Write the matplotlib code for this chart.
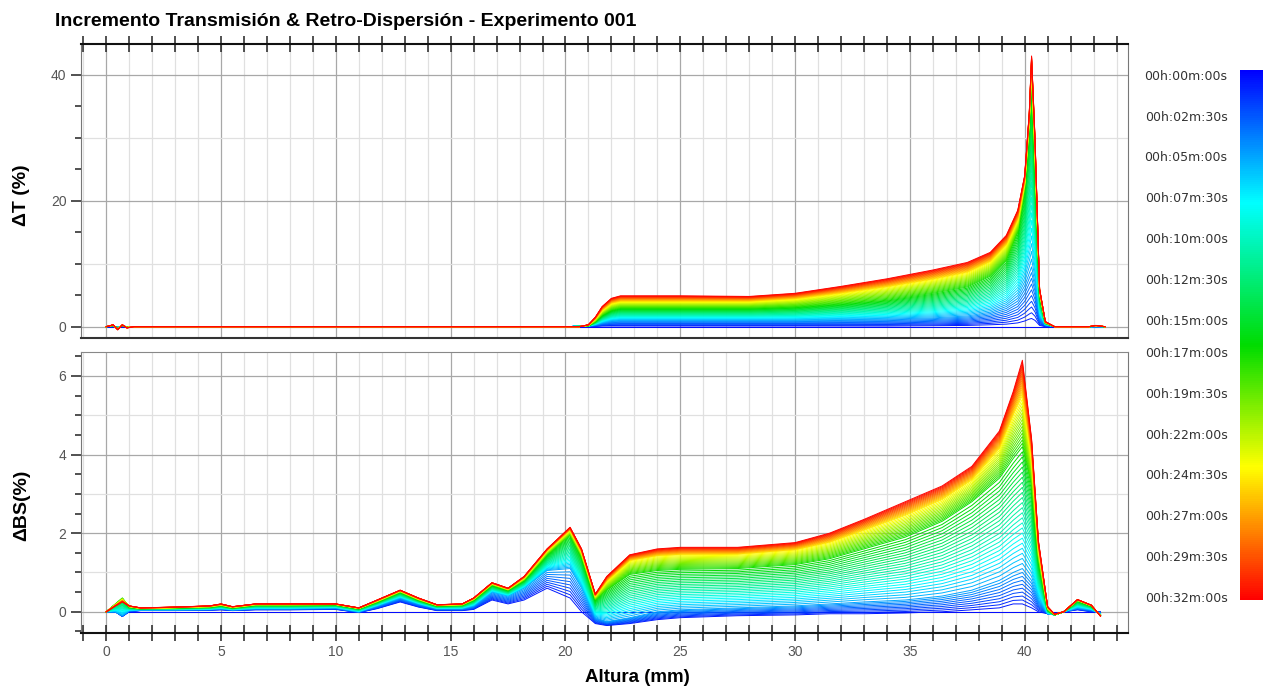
import numpy as np
import matplotlib
matplotlib.use("Agg")
import matplotlib.pyplot as plt
from matplotlib.colors import LinearSegmentedColormap, Normalize
from matplotlib.cm import ScalarMappable
from matplotlib.ticker import MultipleLocator, FixedLocator

plt.rcParams['font.family'] = ['Liberation Sans', 'DejaVu Sans']

# barridos cada 30 s durante 32 min
tiempos = np.arange(0, 32.5, 0.5)
# instantes de los perfiles de referencia (min)
t_ref = [0, 0.5, 5, 17, 24.5, 32]

# ---- Transmision ----
altura_T = [0.0, 0.3, 0.5, 0.7, 0.9, 1.2, 20.2, 20.6, 21.0, 21.3, 21.6, 22.0, 22.4,
            25.0, 28.0, 30.0, 32.0, 34.0, 36.0, 37.5, 38.5, 39.2, 39.7, 40.0, 40.2,
            40.3, 40.45, 40.65, 40.9, 41.3, 42.8, 43.1, 43.5]
dT_cero = [0.0] * len(altura_T)
dT_primero = [0, 0, 0, 0, 0, 0, 0, 0.1, 0, 0.05, 0.1, 0.1, 0.1, 0.1, 0.1, 0.1, 0.1,
              0.1, 0.15, 0.2, 0.3, 0.4, 0.6, 0.9, 1.2, 1.3, 1.0, 0.2, 0, 0, 0, 0, 0]
dT_inicial = [0, 0.1, -0.1, 0.1, 0, 0, 0, 0.15, 0.1, 0.3, 0.6, 0.9, 1.0, 1.0, 1.0, 1.0,
              1.1, 1.2, 1.4, 1.7, 2.3, 3.2, 4.5, 6.5, 8.5, 9.5, 7.0, 1.5, 0.3, 0, 0, 0, 0]
dT_medio = [0, 0.2, -0.3, 0.2, -0.1, 0, 0, 0, 0.15, 0.8, 1.8, 2.6, 2.9, 2.9, 2.9, 3.1,
            3.6, 4.2, 5.3, 6.3, 8.0, 10.5, 15.0, 22.0, 32.0, 39.0, 26.0, 5.0, 0.6, 0, 0, 0.1, 0]
dT_tardio = [0, 0.25, -0.4, 0.25, -0.15, 0, 0, 0, 0.25, 1.2, 2.6, 3.7, 4.0, 4.0, 4.0, 4.4,
             5.3, 6.3, 7.5, 8.6, 10.3, 13.0, 17.0, 23.0, 33.0, 41.5, 28.5, 5.6, 0.7, 0, 0, 0.15, 0]
dT_final = [0, 0.3, -0.5, 0.3, -0.2, 0, 0, 0, 0.3, 1.5, 3.2, 4.5, 4.9, 4.9, 4.8, 5.3,
            6.4, 7.6, 9.0, 10.2, 11.8, 14.5, 18.5, 24.0, 34.0, 43.0, 30.0, 6.0, 0.8, 0, 0, 0.2, 0]

# ---- Retro-dispersion ----
altura_BS = [0.0, 0.4, 0.7, 1.0, 1.5, 3.0, 4.5, 5.0, 5.5, 6.5, 8.0, 10.0, 11.0, 11.8,
             12.8, 13.6, 14.4, 15.5, 16.0, 16.8, 17.5, 18.2, 19.2, 20.2, 20.7, 21.3,
             21.8, 22.8, 24.0, 25.0, 27.5, 30.0, 31.5, 33.0, 34.8, 36.4, 37.7, 38.9,
             39.5, 39.9, 40.3, 40.6, 41.0, 41.3, 41.7, 42.3, 42.9, 43.3]
dBS_cero = [0.0] * len(altura_BS)
dBS_primero = [0, 0, -0.12, 0, 0.03, 0.03, 0.04, 0.05, 0.03, 0.05, 0.05, 0.06, -0.02,
               0.08, 0.25, 0.12, 0.03, 0.03, 0.06, 0.3, 0.2, 0.3, 0.6, 0.35, 0.0, -0.3,
               -0.35, -0.3, -0.2, -0.15, -0.1, -0.08, -0.05, -0.05, -0.03, 0.0, 0.05,
               0.1, 0.2, 0.2, 0.1, 0.0, -0.05, -0.05, 0.0, 0.05, 0.0, 0.0]
dBS_inicial = [0, 0.0, -0.1, 0.03, 0.05, 0.05, 0.06, 0.08, 0.05, 0.08, 0.08, 0.1, 0.0,
               0.15, 0.35, 0.2, 0.08, 0.08, 0.15, 0.5, 0.4, 0.6, 1.05, 1.1, 0.6, -0.15,
               -0.25, -0.15, 0.0, 0.05, 0.1, 0.15, 0.2, 0.25, 0.3, 0.4, 0.55, 0.8, 1.0,
               1.1, 0.8, 0.3, -0.05, -0.08, 0.0, 0.1, 0.05, -0.05]
dBS_medio = [0, 0.2, 0.35, 0.12, 0.08, 0.1, 0.12, 0.16, 0.1, 0.17, 0.17, 0.18, 0.08,
             0.25, 0.5, 0.3, 0.15, 0.17, 0.3, 0.68, 0.55, 0.8, 1.45, 1.95, 1.4, 0.3,
             0.55, 0.95, 1.05, 1.08, 1.1, 1.2, 1.35, 1.6, 1.9, 2.3, 2.8, 3.4, 3.9, 4.2,
             3.2, 1.3, 0.05, -0.08, 0.0, 0.28, 0.15, -0.1]
dBS_tardio = [0, 0.17, 0.3, 0.14, 0.09, 0.11, 0.14, 0.18, 0.12, 0.19, 0.19, 0.19, 0.09,
              0.28, 0.53, 0.33, 0.17, 0.19, 0.33, 0.72, 0.58, 0.86, 1.55, 2.08, 1.52, 0.4,
              0.78, 1.3, 1.42, 1.45, 1.46, 1.57, 1.76, 2.07, 2.45, 2.85, 3.35, 4.15, 5.0,
              5.5, 3.95, 1.6, 0.1, -0.07, 0.0, 0.3, 0.16, -0.1]
dBS_final = [0, 0.15, 0.25, 0.15, 0.1, 0.12, 0.15, 0.2, 0.13, 0.2, 0.2, 0.2, 0.1, 0.3,
             0.55, 0.35, 0.18, 0.2, 0.35, 0.74, 0.6, 0.9, 1.6, 2.15, 1.6, 0.45, 0.9,
             1.45, 1.6, 1.64, 1.64, 1.76, 2.0, 2.35, 2.8, 3.2, 3.7, 4.6, 5.6, 6.4, 4.4,
             1.8, 0.13, -0.06, 0.0, 0.31, 0.17, -0.11]

# etiquetas de la barra de color
t_etiquetas = [0, 2.5, 5, 7.5, 10, 12.5, 15, 17, 19.5, 22, 24.5, 27, 29.5, 32]
etiquetas = ['00h:00m:00s', '00h:02m:30s', '00h:05m:00s', '00h:07m:30s',
             '00h:10m:00s', '00h:12m:30s', '00h:15m:00s', '00h:17m:00s',
             '00h:19m:30s', '00h:22m:00s', '00h:24m:30s', '00h:27m:00s',
             '00h:29m:30s', '00h:32m:00s']

cmap = LinearSegmentedColormap.from_list(
    'tiempo', [(0, '#0000ff'), (0.25, '#00ffff'), (0.52, '#00dc00'),
               (0.75, '#ffff00'), (1, '#ff0000')])
norm = Normalize(-0.3, 32.2)


def barridos(perfiles):
    p = np.array(perfiles)
    return [np.array([np.interp(t, t_ref, p[:, k]) for k in range(p.shape[1])])
            for t in tiempos]


W, H = 1264, 689
fig = plt.figure(figsize=(W / 100, H / 100), dpi=100)
ax1 = fig.add_axes([81 / W, 1 - 338 / H, (1128 - 81) / W, (338 - 44) / H])
ax2 = fig.add_axes([81 / W, 1 - 633 / H, (1128 - 81) / W, (633 - 352) / H])

for ax in (ax1, ax2):
    ax.set_xlim(-1.1, 44.5)
    for x in range(-1, 45):
        ax.axvline(x, color='#a8a8a8' if x % 5 == 0 else '#e0e0e0', lw=0.9, zorder=0)
    ax.xaxis.set_major_locator(MultipleLocator(5))
    ax.xaxis.set_minor_locator(MultipleLocator(1))
    ax.tick_params(axis='x', which='both', direction='inout', length=11, width=1.1,
                   color='#222222', labelsize=10, labelcolor='#555555')
    ax.tick_params(axis='y', which='major', direction='out', length=7, width=1.2,
                   color='#333333', labelsize=10, labelcolor='#555555')
    ax.tick_params(axis='y', which='minor', direction='out', length=4, width=1.2,
                   color='#333333')
    for s in ('left', 'right'):
        ax.spines[s].set_color('#777777')

# panel de transmision
ax1.set_ylim(-1.8, 44.9)
for y in (0, 10, 20, 30, 40):
    ax1.axhline(y, color='#a8a8a8' if y % 20 == 0 else '#e0e0e0', lw=0.9, zorder=0)
ax1.yaxis.set_major_locator(FixedLocator([0, 20, 40]))
ax1.yaxis.set_minor_locator(MultipleLocator(5))
ax1.tick_params(axis='x', which='both', top=True, bottom=False, labelbottom=False)
ax1.spines['top'].set_color('#111111')
ax1.spines['top'].set_linewidth(1.5)
ax1.spines['bottom'].set_color('#333333')
ax1.spines['bottom'].set_linewidth(1.5)
perfiles_T = [dT_cero, dT_primero, dT_inicial, dT_medio, dT_tardio, dT_final]
for t, y in zip(tiempos, barridos(perfiles_T)):
    ax1.plot(altura_T, y, color=cmap(norm(t)), lw=0.7)

# panel de retro-dispersion
ax2.set_ylim(-0.54, 6.61)
for y in range(0, 7):
    ax2.axhline(y, color='#a8a8a8' if y % 2 == 0 else '#e0e0e0', lw=0.9, zorder=0)
ax2.yaxis.set_major_locator(MultipleLocator(2))
ax2.yaxis.set_minor_locator(MultipleLocator(0.5))
ax2.spines['top'].set_color('#888888')
ax2.spines['bottom'].set_color('#111111')
ax2.spines['bottom'].set_linewidth(1.5)
perfiles_BS = [dBS_cero, dBS_primero, dBS_inicial, dBS_medio, dBS_tardio, dBS_final]
for t, y in zip(tiempos, barridos(perfiles_BS)):
    ax2.plot(altura_BS, y, color=cmap(norm(t)), lw=0.7)

fig.text(55 / W, 1 - 22 / H, 'Incremento Transmisión & Retro-Dispersión - Experimento 001',
         fontsize=14, fontweight='bold', ha='left', va='center')
fig.text(22 / W, 1 - 195 / H, 'ΔT (%)', rotation=90, fontsize=14, fontweight='bold',
         ha='center', va='center')
fig.text(22 / W, 1 - 505 / H, 'ΔBS(%)', rotation=90, fontsize=14, fontweight='bold',
         ha='center', va='center')
fig.text(637 / W, 1 - 677 / H, 'Altura (mm)', fontsize=13.5, fontweight='bold',
         ha='center', va='center')

# barra de color del tiempo
cax = fig.add_axes([1240 / W, 1 - 600 / H, 23 / W, 530 / H])
cb = fig.colorbar(ScalarMappable(norm=norm, cmap=cmap), cax=cax)
cb.outline.set_visible(False)
cax.invert_yaxis()
cax.yaxis.set_ticks_position('left')
cb.set_ticks(t_etiquetas)
cb.set_ticklabels(etiquetas)
cax.tick_params(length=0, pad=9, labelsize=9, labelcolor='#333333')
for lab in cax.get_yticklabels():
    lab.set_family('DejaVu Sans')

fig.savefig('out.png', dpi=100)
